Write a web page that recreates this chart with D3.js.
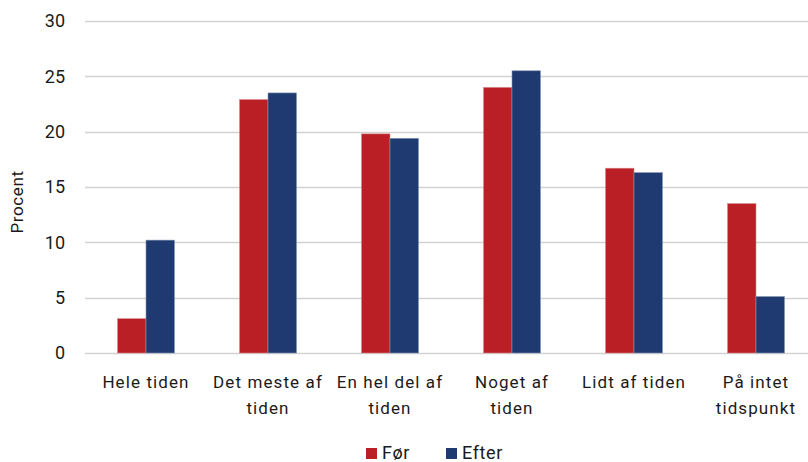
<!DOCTYPE html>
<html>
<head>
<meta charset="utf-8">
<script src="https://cdn.jsdelivr.net/npm/d3@7"></script>
<style>
  body { margin: 0; background: #fff; }
  text { font-family: Roboto, "DejaVu Sans", sans-serif; fill: #1a1a1a; }
</style>
</head>
<body>
<div id="chart"></div>
<script>
// data
var categories = [
  ["Hele tiden"],
  ["Det meste af", "tiden"],
  ["En hel del af", "tiden"],
  ["Noget af", "tiden"],
  ["Lidt af tiden"],
  ["På intet", "tidspunkt"]
];
var series = ["Før", "Efter"];
var valuesFor = [3.1, 22.9, 19.8, 24.0, 16.7, 13.5];
var valuesEfter = [10.2, 23.5, 19.4, 25.5, 16.3, 5.1];
var yTicks = [0, 5, 10, 15, 20, 25, 30];
var colours = ["#B91F24", "#1E3A70"];

var width = 808, height = 462;

var svg = d3.select("#chart")
    .append("svg")
    .attr("width", width)
    .attr("height", height);

var x = d3.scaleBand()
    .domain(d3.range(categories.length))
    .range([85, 817])
    .paddingInner(0.533)
    .paddingOuter(0.2665);

var xInner = d3.scaleBand()
    .domain(series)
    .range([0, x.bandwidth()]);

var y = d3.scaleLinear()
    .domain([0, 30])
    .range([353, 21]);

// grid lines
svg.append("g")
    .selectAll("line")
    .data(yTicks)
    .enter()
    .append("line")
    .attr("x1", 85)
    .attr("x2", width)
    .attr("y1", function(d) { return Math.round(y(d)) + 0.5; })
    .attr("y2", function(d) { return Math.round(y(d)) + 0.5; })
    .attr("stroke", "#d2d2d2")
    .attr("stroke-width", 1.3);

// y axis labels
var yAxis = svg.append("g")
    .attr("transform", "translate(71,0)")
    .call(d3.axisLeft(y).tickValues(yTicks).tickSize(0).tickPadding(6));
yAxis.select(".domain").remove();
yAxis.selectAll("text")
    .style("font-size", "18px")
    .attr("fill", "#1a1a1a")
    .style("font-family", "Roboto, sans-serif");

svg.append("text")
    .attr("transform", "translate(23,202) rotate(-90)")
    .attr("text-anchor", "middle")
    .style("font-size", "17px")
    .style("letter-spacing", "0.6px")
    .text("Procent");

// bars
var rows = categories.map(function(c, i) {
    return { i: i, values: [valuesFor[i], valuesEfter[i]] };
});

var group = svg.selectAll(".group")
    .data(rows)
    .enter()
    .append("g")
    .attr("class", "group")
    .attr("transform", function(d) { return "translate(" + x(d.i) + ",0)"; });

group.selectAll("rect")
    .data(function(d) {
        return series.map(function(s, k) { return { s: s, k: k, v: d.values[k] }; });
    })
    .enter()
    .append("rect")
    .attr("x", function(d) { return xInner(d.s); })
    .attr("width", xInner.bandwidth())
    .attr("y", function(d) { return y(d.v); })
    .attr("height", function(d) { return y(0) - y(d.v); })
    .attr("fill", function(d) { return colours[d.k]; })
    .attr("stroke", function(d) { return d.k === 0 ? "#d9868a" : "#8293b4"; })
    .attr("stroke-width", 0.6);

// category labels
var labels = svg.selectAll(".cat")
    .data(categories)
    .enter()
    .append("text")
    .attr("class", "cat")
    .attr("text-anchor", "middle")
    .attr("x", function(d, i) { return x(i) + x.bandwidth() / 2; })
    .attr("y", 388)
    .style("font-size", "17px")
    .style("letter-spacing", "1.1px");

labels.selectAll("tspan")
    .data(function(d) { return d; })
    .enter()
    .append("tspan")
    .attr("x", function() { return d3.select(this.parentNode).attr("x"); })
    .attr("dy", function(d, j) { return j === 0 ? 0 : 26; })
    .text(function(d) { return d; });

// legend
var legendX = [366, 446];
var legend = svg.selectAll(".legend")
    .data(series)
    .enter()
    .append("g")
    .attr("class", "legend")
    .attr("transform", function(d, i) { return "translate(" + legendX[i] + ",448)"; });

legend.append("rect")
    .attr("width", 11)
    .attr("height", 11)
    .attr("fill", function(d, i) { return colours[i]; });

legend.append("text")
    .attr("x", 16)
    .attr("y", 11)
    .style("font-size", "18px")
    .style("letter-spacing", "0.6px")
    .text(function(d) { return d; });
</script>
</body>
</html>
